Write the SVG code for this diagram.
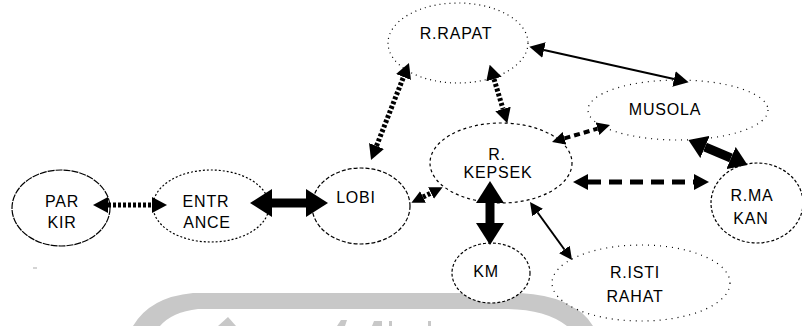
<svg xmlns="http://www.w3.org/2000/svg" width="802" height="326" viewBox="0 0 802 326">
  <style>
    .room { fill: #ffffff; stroke: #000000; stroke-width: 1.2; }
    .label { font-family: "Liberation Sans", Arial, sans-serif; font-size: 16px; letter-spacing: 0.8px; fill: #000000; text-anchor: middle; }
    .link { stroke: #000000; fill: none; }
    .thick { stroke-width: 9; }
    .dotted { stroke-width: 5; stroke-dasharray: 3 2; }
    .dashed { stroke-width: 5; stroke-dasharray: 13 8; }
    .short-dash { stroke-width: 4; stroke-dasharray: 6 4; }
    .thin { stroke-width: 2; }
    .mark { fill: #c8c8c8; }
  </style>
  <defs>
    <marker id="head-big" markerUnits="userSpaceOnUse" markerWidth="22" markerHeight="28" refX="0" refY="14" orient="auto-start-reverse">
      <path d="M0,0 L22,14 L0,28 Z" fill="#000"/>
    </marker>
    <marker id="head-big-s" markerUnits="userSpaceOnUse" markerWidth="18" markerHeight="24" refX="0" refY="12" orient="auto-start-reverse">
      <path d="M0,0 L18,12 L0,24 Z" fill="#000"/>
    </marker>
    <marker id="head-mid" markerUnits="userSpaceOnUse" markerWidth="15" markerHeight="16" refX="0" refY="8" orient="auto-start-reverse">
      <path d="M0,0 L15,8 L0,16 Z" fill="#000"/>
    </marker>
    <marker id="head-small" markerUnits="userSpaceOnUse" markerWidth="13" markerHeight="13" refX="0" refY="6.5" orient="auto-start-reverse">
      <path d="M0,0 L13,6.5 L0,13 Z" fill="#000"/>
    </marker>
  </defs>

  <rect width="802" height="326" fill="#ffffff"/>

  <!-- faint background emblem along the bottom edge -->
  <g id="emblem">
    <path class="mark" d="M133,326 Q150,297 193,293 L520,293 Q575,296 593,326 L567,326 Q545,309 505,309 L198,309 Q172,312 160,326 Z"/>
    <path class="mark" d="M218,326 L228,317 L236,326 Z"/>
    <path class="mark" d="M337,326 L341,320 L347,320 L345,326 Z"/>
    <path class="mark" d="M372,326 L374,321 L382,321 L382,326 Z"/>
    <rect class="mark" x="389" y="321" width="3" height="5"/>
    <rect class="mark" x="428" y="321" width="3" height="5"/>
    <rect x="33" y="267" width="4" height="2" fill="#d4d4d4"/>
  </g>

  <!-- rooms -->
  <g id="parkir">
    <ellipse class="room" cx="61" cy="208" rx="49" ry="38" stroke-dasharray="7 1"/>
    <text class="label" x="62" y="207">PAR</text>
    <text class="label" x="62" y="228">KIR</text>
  </g>
  <g id="entrance">
    <ellipse class="room" cx="211" cy="206" rx="58" ry="36" stroke-dasharray="2 2" stroke-width="0.9"/>
    <text class="label" x="206" y="207">ENTR</text>
    <text class="label" x="207" y="228">ANCE</text>
  </g>
  <g id="lobi">
    <ellipse class="room" cx="361" cy="206" rx="49" ry="38" stroke-dasharray="4 2"/>
    <text class="label" x="356" y="203">LOBI</text>
  </g>
  <g id="r-rapat">
    <ellipse class="room" cx="458" cy="43" rx="70" ry="40" stroke-dasharray="1 4"/>
    <text class="label" x="456" y="39">R.RAPAT</text>
  </g>
  <g id="r-kepsek">
    <ellipse class="room" cx="501" cy="163" rx="71" ry="40" stroke-dasharray="3 3"/>
    <text class="label" x="497" y="160">R.</text>
    <text class="label" x="498" y="178">KEPSEK</text>
  </g>
  <g id="musola">
    <ellipse class="room" cx="678" cy="110" rx="90" ry="30" stroke-dasharray="1 5"/>
    <text class="label" x="665" y="115">MUSOLA</text>
  </g>
  <g id="r-makan">
    <ellipse class="room" cx="757" cy="203" rx="46" ry="40" stroke-dasharray="3 2"/>
    <text class="label" x="752" y="201">R.MA</text>
    <text class="label" x="751" y="224">KAN</text>
  </g>
  <g id="km">
    <ellipse class="room" cx="491" cy="273" rx="39" ry="30" stroke-dasharray="3 2"/>
    <text class="label" x="486" y="277">KM</text>
  </g>
  <g id="r-istirahat">
    <ellipse class="room" cx="641" cy="283" rx="89" ry="38" stroke-dasharray="1 5"/>
    <text class="label" x="635" y="278">R.ISTI</text>
    <text class="label" x="635" y="302">RAHAT</text>
  </g>

  <!-- connections -->
  <g id="connectors">
    <line class="link dotted" x1="108" y1="205" x2="152" y2="205" marker-start="url(#head-mid)" marker-end="url(#head-mid)"/>
    <line class="link thick" x1="272" y1="203" x2="306" y2="203" marker-start="url(#head-big)" marker-end="url(#head-big)"/>
    <line class="link dotted" x1="376.5" y1="146" x2="403.5" y2="77" marker-start="url(#head-mid)" marker-end="url(#head-mid)"/>
    <line class="link dotted" x1="423" y1="197" x2="431" y2="193" marker-start="url(#head-small)" marker-end="url(#head-small)"/>
    <line class="link dotted" x1="494" y1="79" x2="503" y2="109" marker-start="url(#head-mid)" marker-end="url(#head-mid)"/>
    <line class="link thin" x1="544" y1="50" x2="674" y2="79" marker-start="url(#head-mid)" marker-end="url(#head-mid)"/>
    <line class="link short-dash" x1="564.5" y1="138.3" x2="597.5" y2="128.7" marker-start="url(#head-small)" marker-end="url(#head-small)"/>
    <line class="link thick" x1="705" y1="147" x2="731" y2="158" marker-start="url(#head-big-s)" marker-end="url(#head-big-s)"/>
    <line class="link dashed" x1="588" y1="182" x2="694" y2="182" marker-start="url(#head-mid)" marker-end="url(#head-mid)"/>
    <line class="link thick" x1="490" y1="203" x2="490" y2="223" marker-start="url(#head-big)" marker-end="url(#head-big)"/>
    <line class="link thin" x1="537.6" y1="212.5" x2="564.4" y2="249.5" marker-start="url(#head-small)" marker-end="url(#head-small)"/>
  </g>
</svg>
